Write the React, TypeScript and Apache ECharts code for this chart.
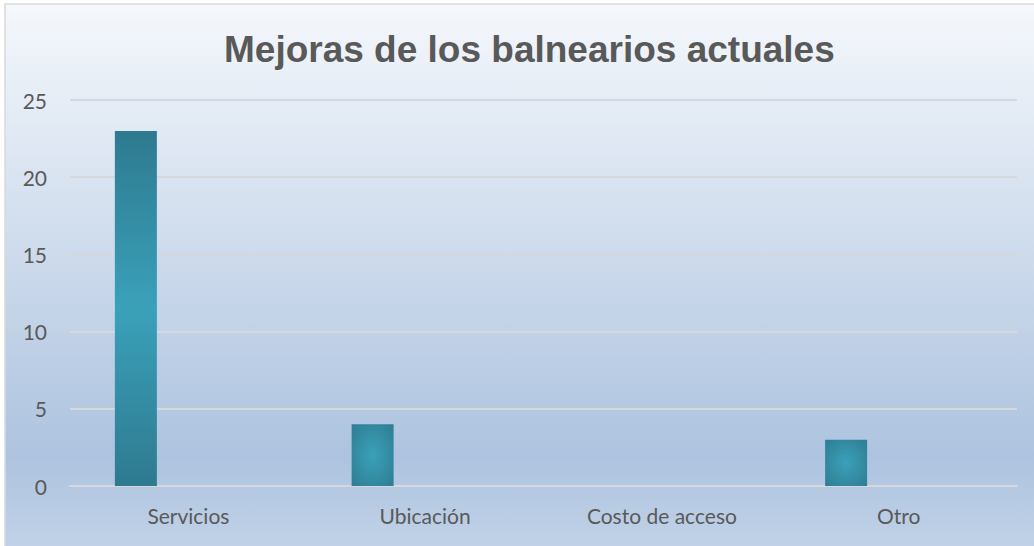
import React, { useEffect, useRef } from "react";
import * as echarts from "echarts";

const categories = ["Servicios", "Ubicación", "Costo de acceso", "Otro"];
const values = [23, 4, 0, 3];
const titleText = "Mejoras de los balnearios actuales";

const DARK = "#2e7a8f";
const LIGHT = "#3aa1b9";

export default function App() {
  const ref = useRef<HTMLDivElement>(null);
  useEffect(() => {
    if (!ref.current) return;
    const chart = echarts.init(ref.current, undefined, { renderer: "svg" });
    const barData = values.map((v, i) => ({
      value: v,
      itemStyle: {
        color:
          i === 0
            ? new echarts.graphic.LinearGradient(0, 0, 0, 1, [
                { offset: 0, color: DARK },
                { offset: 0.5, color: LIGHT },
                { offset: 1, color: DARK },
              ])
            : new echarts.graphic.RadialGradient(0.5, 0.5, 0.75, [
                { offset: 0, color: LIGHT },
                { offset: 1, color: DARK },
              ]),
      },
    }));
    chart.setOption({
      animation: false,
      backgroundColor: "#ffffff",
      graphic: [
        {
          type: "rect",
          z: -10,
          silent: true,
          shape: { x: 5, y: 4, width: 1060, height: 580 },
          style: {
            fill: new echarts.graphic.LinearGradient(0, 0, 0, 1, [
              { offset: 0, color: "#f5f8fc" },
              { offset: 0.78, color: "#adc3df" },
              { offset: 1, color: "#c9d8eb" },
            ]),
            stroke: "#d9d9d9",
            lineWidth: 1.5,
          },
        },
      ],
      title: {
        text: titleText,
        left: 219,
        top: 26,
        textStyle: {
          fontFamily: "Liberation Sans, Arial, sans-serif",
          fontWeight: "bold",
          fontSize: 37,
          color: "#595959",
        },
      },
      grid: { left: 70, right: 17, top: 100, bottom: 60, containLabel: false },
      xAxis: {
        type: "category",
        data: categories,
        axisLine: { show: true, lineStyle: { color: "#d5d8dc", width: 2 } },
        axisTick: { show: false },
        axisLabel: {
          fontFamily: "Lato, sans-serif",
          fontSize: 21,
          color: "#595959",
          margin: 19,
        },
      },
      yAxis: {
        type: "value",
        min: 0,
        max: 25,
        interval: 5,
        axisLine: { show: false },
        axisTick: { show: false },
        splitLine: { lineStyle: { color: "#d5d8dc", width: 2 } },
        axisLabel: {
          fontFamily: "Lato, sans-serif",
          fontSize: 21,
          color: "#595959",
          margin: 23,
        },
      },
      series: [
        {
          type: "bar",
          data: barData,
          barWidth: 42,
          barGap: "150%",
        },
        {
          type: "bar",
          data: values.map(() => null),
          barWidth: 42,
        },
      ],
    });
    return () => chart.dispose();
  }, []);
  return (
    <div
      ref={ref}
      style={{ position: "fixed", left: 0, top: 0, width: 1034, height: 546 }}
    />
  );
}
